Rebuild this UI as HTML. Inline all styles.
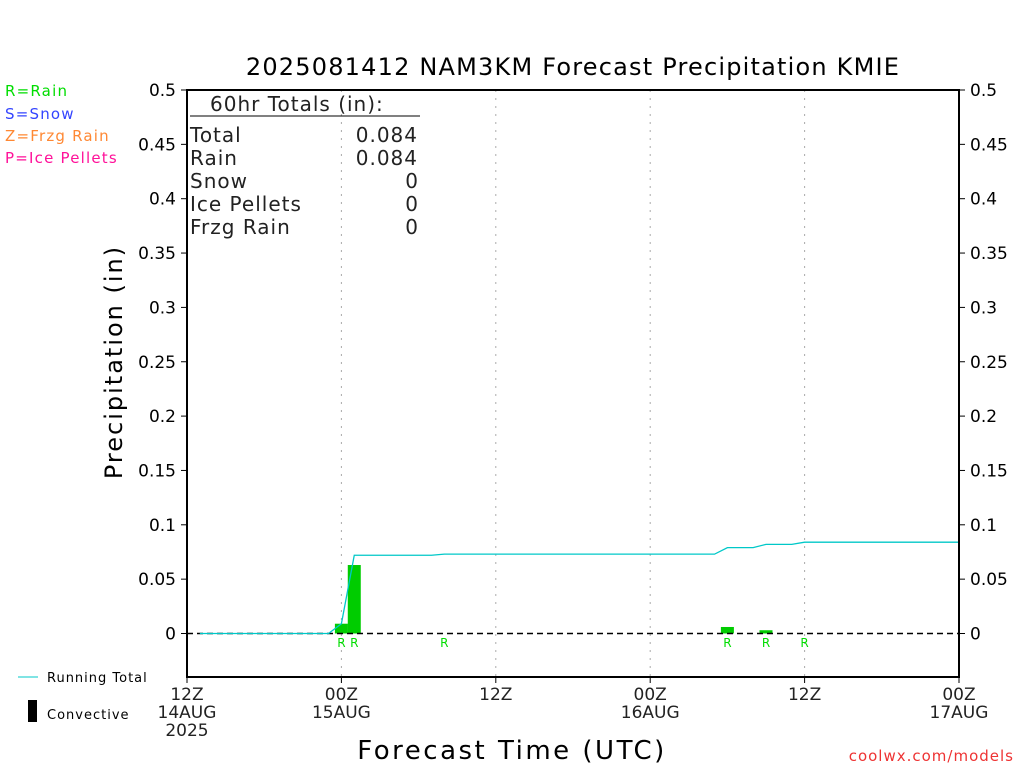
<!DOCTYPE html>
<html><head><meta charset="utf-8"><style>
body{margin:0;background:#fff;}
svg{display:block;font-family:"DejaVu Sans","Liberation Sans",sans-serif;}
</style></head><body>
<svg id="c" width="1024" height="768" viewBox="0 0 1024 768">
<text x="573" y="75" font-size="24" text-anchor="middle" letter-spacing="1.2">2025081412 NAM3KM Forecast Precipitation KMIE</text>
<g font-size="15" letter-spacing="1.2">
<text x="5" y="96" fill="#00dd00">R=Rain</text>
<text x="5" y="119" fill="#3344ff">S=Snow</text>
<text x="5" y="141" fill="#ff8833">Z=Frzg Rain</text>
<text x="5" y="163" fill="#ff1199">P=Ice Pellets</text>
</g>
<g id="grid"></g>
<g id="bars"></g>
<line x1="187" y1="633.5" x2="959" y2="633.5" stroke="#000" stroke-width="1.5" stroke-dasharray="6,4"/>
<polyline id="total" fill="none" stroke="#00c8c8" stroke-width="1.3"/>
<g id="rlabels" font-size="12" fill="#00dd00" text-anchor="middle"></g>
<rect x="187" y="90" width="772" height="587" fill="none" stroke="#000" stroke-width="2"/>
<g id="yl" font-size="17" text-anchor="end"></g>
<g id="yr" font-size="17"></g>
<g id="xl" font-size="17" text-anchor="middle" fill="#222"></g>
<text transform="translate(122,362) rotate(-90)" font-size="24" text-anchor="middle" letter-spacing="2">Precipitation (in)</text>
<text x="512" y="759" font-size="26" text-anchor="middle" letter-spacing="2.5">Forecast Time (UTC)</text>
<text x="1014" y="761" font-size="15" fill="#ee3333" text-anchor="end" letter-spacing="1">coolwx.com/models</text>
<g font-size="20" fill="#222">
<text x="210" y="111" letter-spacing="1">60hr Totals (in):</text>
<line x1="190" y1="116" x2="420" y2="116" stroke="#000" stroke-width="1"/>
<text x="190" y="142" letter-spacing="1">Total</text><text x="418" y="142" text-anchor="end" letter-spacing="1">0.084</text>
<text x="190" y="165" letter-spacing="1">Rain</text><text x="418" y="165" text-anchor="end" letter-spacing="1">0.084</text>
<text x="190" y="188" letter-spacing="1">Snow</text><text x="418" y="188" text-anchor="end">0</text>
<text x="190" y="211" letter-spacing="1">Ice Pellets</text><text x="418" y="211" text-anchor="end">0</text>
<text x="190" y="234" letter-spacing="1">Frzg Rain</text><text x="418" y="234" text-anchor="end">0</text>
</g>
<g>
<line x1="18" y1="677" x2="38" y2="677" stroke="#00c8c8" stroke-width="1"/>
<text x="47" y="682" font-size="13" letter-spacing="1">Running Total</text>
<rect x="28" y="700" width="9" height="22" fill="#000"/>
<text x="47" y="719" font-size="13" letter-spacing="1">Convective</text>
</g>
</svg>
<script>
const barHours=[12,13,42,45];
const barValues=[0.009,0.063,0.006,0.003];
const totalHours=[1,11,12,13,19,20,41,42,44,45,47,48,60];
const totalValues=[0,0,0.009,0.072,0.072,0.073,0.073,0.079,0.079,0.082,0.082,0.084,0.084];
const labelHours=[12,13,20,42,45,48];
const yTicks=[0,0.05,0.1,0.15,0.2,0.25,0.3,0.35,0.4,0.45,0.5];
const xTickHours=[0,12,24,36,48,60];
const xTickLabels=[["12Z","14AUG","2025"],["00Z","15AUG"],["12Z"],["00Z","16AUG"],["12Z"],["00Z","17AUG"]];
const NS="http://www.w3.org/2000/svg";
const X=h=>187+h*(772/60);
const Y=v=>633.5-v*(543.5/0.5);
function mk(t,a,p){const e=document.createElementNS(NS,t);for(const k in a)e.setAttribute(k,a[k]);p.appendChild(e);return e;}
const g=document.getElementById('grid');
xTickHours.slice(1,-1).forEach(h=>{const l=mk('line',{x1:X(h),y1:90,x2:X(h),y2:677,stroke:'#aaa','stroke-dasharray':'2,6'},g);

});
const b=document.getElementById('bars');
barHours.forEach((h,i)=>{const r=mk('rect',{x:X(h)-6.5,y:Y(barValues[i]),width:13,height:633.5-Y(barValues[i]),fill:'#00cc00'},b);

});
document.getElementById('total').setAttribute('points',totalHours.map((h,i)=>X(h)+','+Y(totalValues[i])).join(' '));
const rl=document.getElementById('rlabels');
labelHours.forEach(h=>{const t=mk('text',{x:X(h),y:647},rl);t.textContent='R';

});
const yl=document.getElementById('yl'),yr=document.getElementById('yr');
yTicks.forEach(v=>{const y=Y(v);
mk('line',{x1:181,y1:y,x2:187,y2:y,stroke:'#000'},yl);
mk('line',{x1:959,y1:y,x2:965,y2:y,stroke:'#000'},yr);
const s=String(v);
const a=mk('text',{x:176,y:y+6},yl);a.textContent=s;


const c=mk('text',{x:970,y:y+6},yr);c.textContent=s;

});
const xl=document.getElementById('xl');
xTickHours.forEach((h,i)=>{mk('line',{x1:X(h),y1:677,x2:X(h),y2:683,stroke:'#000'},xl);
xTickLabels[i].forEach((s,j)=>{const t=mk('text',{x:X(h),y:700+j*18},xl);t.textContent=s;

});});
</script>
</body></html>
